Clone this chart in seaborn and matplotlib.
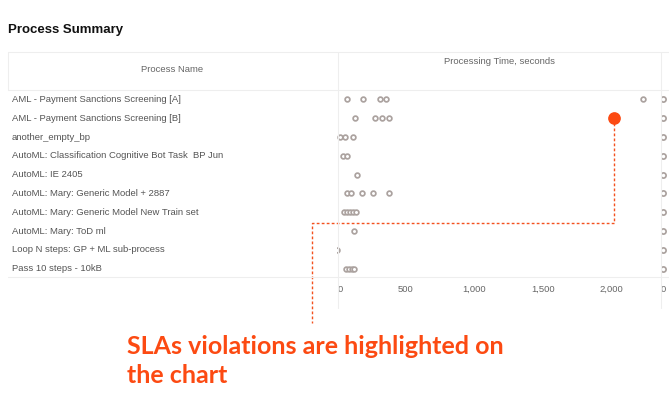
import matplotlib
matplotlib.use("Agg")
import matplotlib.pyplot as plt
from matplotlib.lines import Line2D
from matplotlib.transforms import ScaledTranslation
import seaborn as sns
import pandas as pd

sns.set_theme(style="white")
plt.rcParams["font.family"] = ["Liberation Sans", "DejaVu Sans"]

# Data
processes = [
    "AML - Payment Sanctions Screening [A]",
    "AML - Payment Sanctions Screening [B]",
    "another_empty_bp",
    "AutoML: Classification Cognitive Bot Task  BP Jun",
    "AutoML: IE 2405",
    "AutoML: Mary: Generic Model + 2887",
    "AutoML: Mary: Generic Model New Train set",
    "AutoML: Mary: ToD ml",
    "Loop N steps: GP + ML sub-process",
    "Pass 10 steps - 10kB",
]
run_times = [
    [73, 189, 315, 359, 2228],
    [135, 279, 329, 380],
    [24, 58, 121],
    [46, 75],
    [150],
    [77, 104, 182, 262, 380],
    [53, 75, 97, 119, 140],
    [126],
    [0],
    [68, 90, 111, 126],
]
# next (cut off) column of the table
next_column = [0, 0, 0, 0, 0, 0, 0, 0, 0, 0]
violation_process = "AML - Payment Sanctions Screening [B]"
violation_time = 2019
x_ticks = [0, 500, 1000, 1500, 2000]

df = pd.DataFrame(
    [(p, t) for p, ts in zip(processes, run_times) for t in ts],
    columns=["Process", "Seconds"],
)

W, H = 669, 403
fig = plt.figure(figsize=(W / 100, H / 100), dpi=100)


def box(x0, y0, x1, y1):
    # pixel box (top-left origin) -> figure fraction rect
    return [x0 / W, 1 - y1 / H, (x1 - x0) / W, (y1 - y0) / H]


def hline(y, x0, x1, color="#eeeeee"):
    fig.add_artist(Line2D([x0 / W, x1 / W], [1 - y / H, 1 - y / H],
                          transform=fig.transFigure, color=color, lw=0.8))


def vline(x, y0, y1, color="#eeeeee"):
    fig.add_artist(Line2D([x / W, x / W], [1 - y0 / H, 1 - y1 / H],
                          transform=fig.transFigure, color=color, lw=0.8))


# table frame
hline(52, 8, 669)
hline(90, 8, 669)
hline(277, 8, 669)
vline(8, 52, 90)
vline(338, 52, 308)
vline(661, 52, 308)

fig.text(8 / W, 1 - 30 / H, "Process Summary", fontsize=9.5, fontweight="bold",
         color="#111111", va="center", ha="left")
fig.text(172 / W, 1 - 70 / H, "Process Name", fontsize=6.8, color="#666666",
         ha="center", va="center")
fig.text(500 / W, 1 - 62 / H, "Processing Time, seconds", fontsize=6.8,
         color="#666666", ha="center", va="center")

ax = fig.add_axes(box(336.7, 90, 661, 278))
sns.stripplot(data=df, x="Seconds", y="Process", order=processes, jitter=False,
              marker="o", size=3.4, color="white", edgecolor="#aba29f",
              linewidth=1.25, ax=ax)
row = processes.index(violation_process)
ax.scatter([violation_time], [row], s=66, color="#fc4a12", zorder=5)
ax.set_xlim(0, 2358)
ax.set_ylim(len(processes) - 0.5, -0.5)
ax.set_xticks(x_ticks)
ax.set_xticklabels([f"{t:,}" for t in x_ticks], fontsize=6.8, color="#666666")
ax.tick_params(axis="x", length=0, pad=5)
# the "0" label sits nudged inside the plot area
zero = ax.get_xticklabels()[0]
zero.set_transform(zero.get_transform() + ScaledTranslation(0.04, 0, fig.dpi_scale_trans))
ax.set_yticks([])
ax.set_xlabel("")
ax.set_ylabel("")
for s in ax.spines.values():
    s.set_visible(False)

# row labels
for i, name in enumerate(processes):
    fig.text(12 / W, 1 - (99.4 + i * 18.8) / H, name, fontsize=6.8,
             color="#555555", ha="left", va="center")

# cut-off neighbour column on the right edge
ax2 = fig.add_axes(box(661, 90, 669, 278))
ax2.scatter(next_column, range(len(processes)), s=14, facecolor="white",
            edgecolor="#aba29f", linewidth=1.25)
ax2.set_xlim(-15, 44)
ax2.set_ylim(len(processes) - 0.5, -0.5)
ax2.set_xticks([0])
ax2.set_xticklabels(["0"], fontsize=6.8, color="#666666")
ax2.tick_params(axis="x", length=0, pad=5)
ax2.set_yticks([])
for s in ax2.spines.values():
    s.set_visible(False)

# callout from the violation
orange = "#f4511e"
elbow_y = row + 5.6
left_x = -180
bottom_y = row + 10.9
ax.plot([violation_time, violation_time, left_x, left_x],
        [row, elbow_y, elbow_y, bottom_y], color=orange, lw=1,
        linestyle=(0, (2, 1.6)), clip_on=False, zorder=4)

note_font = dict(fontsize=18, fontweight="bold", color="#fc4a12",
                 family=["Lato", "DejaVu Sans"], ha="left", va="baseline")
fig.text(127 / W, 1 - 354 / H, "SLAs violations are highlighted on", **note_font)
fig.text(127 / W, 1 - 383 / H, "the chart", **note_font)

fig.savefig("out.png", dpi=100)
